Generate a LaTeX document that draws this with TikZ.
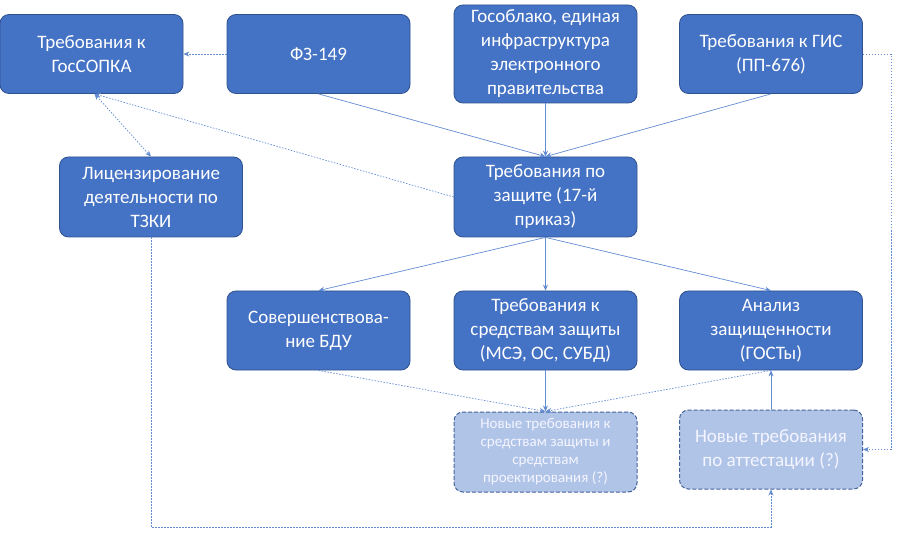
\documentclass[tikz,border=0pt]{standalone}
\usepackage{fontspec}
\setmainfont{Carlito}
\usetikzlibrary{arrows.meta}
\definecolor{boxblue}{RGB}{68,114,196}
\definecolor{boxedge}{RGB}{47,82,143}
\definecolor{linec}{RGB}{100,140,210}
\definecolor{fadeblue}{RGB}{176,196,232}
\tikzset{
  box/.style={rounded corners=9pt, fill=boxblue, draw=boxedge, line width=0.8pt,
    text=white, align=center, minimum width=183pt, minimum height=79pt,
    inner sep=2pt, font=\fontsize{19}{24}\selectfont},
  fadebox/.style={box, fill=fadeblue, dashed, dash pattern=on 4pt off 2pt, line width=1pt,
    draw=boxedge!90!white, text=white!96!blue},
  sline/.style={draw=linec, line width=0.7pt, -{Stealth[length=6pt,width=5pt]}},
  dline/.style={draw=linec, line width=0.7pt, dash pattern=on 1.5pt off 1.5pt, -{Stealth[length=6pt,width=5pt]}},
}
\begin{document}
\begin{tikzpicture}[x=1pt,y=-1pt]
\useasboundingbox[fill=white] (0,0) rectangle (900,540);
\node[box] (A) at (91.5,54) {Требования к\\ГосСОПКА};
\node[box] (B) at (318.5,54) {ФЗ-149};
\node[box, minimum height=98pt] (C) at (545.5,54) {Гособлако, единая\\инфраструктура\\электронного\\правительства};
\node[box] (D) at (771,54) {Требования к ГИС\\(ПП-676)};
\node[box, minimum height=80pt] (E) at (151,197) {Лицензирование\\деятельности по\\ТЗКИ};
\node[box, minimum height=80pt] (F) at (545.5,197) {Требования по\\защите (17-й\\приказ)};
\node[box] (G) at (318.5,330.5) {Совершенствова-\\ние БДУ};
\node[box] (H) at (545.5,330.5) {Требования к\\средствам защиты\\(МСЭ, ОС, СУБД)};
\node[box] (I) at (771,330.5) {Анализ\\защищенности\\(ГОСТы)};
\node[fadebox, minimum height=80pt, font=\fontsize{15}{18}\selectfont] (J) at (545.5,452) {Новые требования к\\средствам защиты и\\средствам\\проектирования (?)};
\node[fadebox] (K) at (771,449.5) {Новые требования\\по аттестации (?)};
\coordinate (ebot) at (151,527);
% top connectors
\draw[dline] (B.west) -- (A.east);
\draw[sline] (B.south) -- (F.north);
\draw[sline] (C.south) -- (F.north);
\draw[sline] (D.south) -- (F.north);
\draw[dline, {Stealth[length=6pt,width=5pt]}-{Stealth[length=6pt,width=5pt]}] ([xshift=3pt]A.south) -- (E.north);
\draw[dline] (F.west) -- ([xshift=3pt]A.south);
% middle
\draw[sline] (F.south) -- (G.north);
\draw[sline] (F.south) -- (H.north);
\draw[sline] (F.south) -- (I.north);
% bottom
\draw[dline] (G.south) -- (J.north);
\draw[sline] (H.south) -- (J.north);
\draw[dline] (I.south) -- (J.north);
\draw[sline] (K.north) -- (I.south);
\draw[dline] (D.east) -- ++(28,0) |- (K.east);
\draw[dline] (E.south) -- (ebot) -| (K.south);
\end{tikzpicture}
\end{document}
